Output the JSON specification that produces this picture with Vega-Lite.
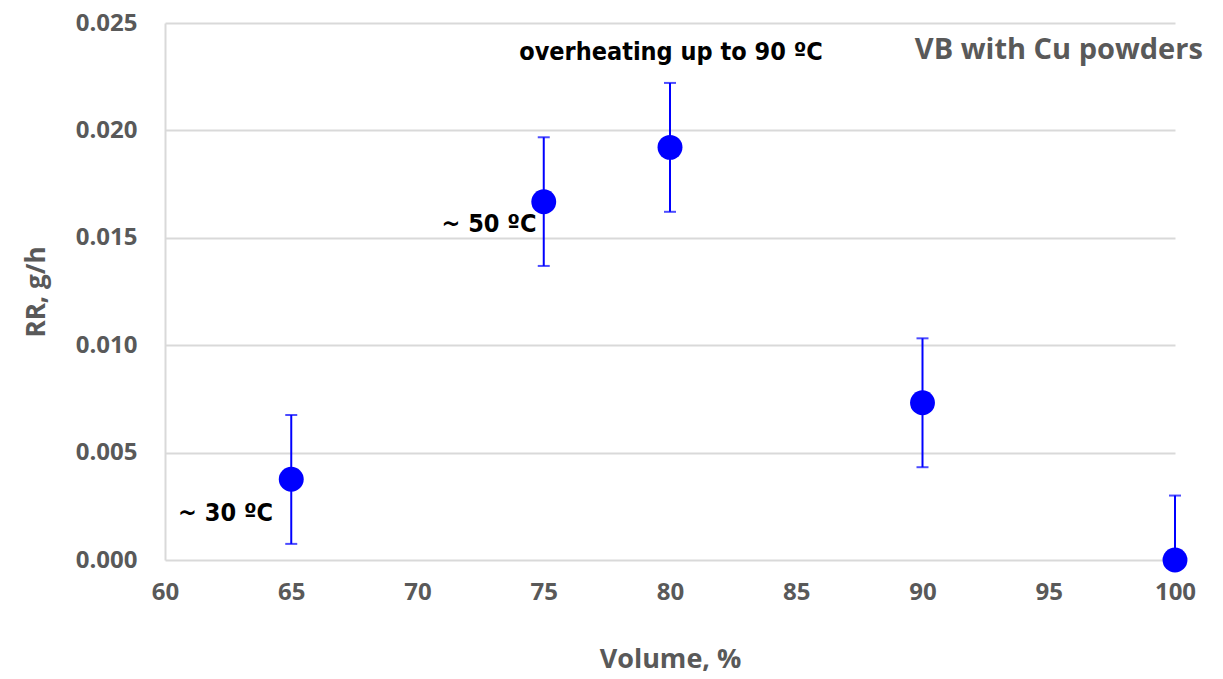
{
  "$schema": "https://vega.github.io/schema/vega-lite/v6.json",
  "width": 1010,
  "height": 537,
  "autosize": {"type": "none"},
  "padding": {"left": 165, "top": 23, "right": 48, "bottom": 119},
  "config": {"view": {"stroke": null}, "font": "Open Sans"},
  "datasets": {
    "pts": [
      {"volume": 65, "rr": 0.00376, "lo": 0.00075, "hi": 0.00675},
      {"volume": 75, "rr": 0.01668, "lo": 0.01369, "hi": 0.01968},
      {"volume": 80, "rr": 0.01921, "lo": 0.01621, "hi": 0.02221},
      {"volume": 90, "rr": 0.00732, "lo": 0.00432, "hi": 0.01032},
      {"volume": 100, "rr": 0.0, "lo": 0.0, "hi": 0.003}
    ],
    "notes": [
      {"volume": 62.4, "rr": 0.00219, "label": "~ 30 ºC"},
      {"volume": 72.83, "rr": 0.01564, "label": "~ 50 ºC"},
      {"volume": 80.04, "rr": 0.02365, "label": "overheating up to 90 ºC"}
    ],
    "title": [
      {"volume": 95.4, "rr": 0.02375, "label": "VB with Cu powders"}
    ]
  },
  "encoding": {
    "x": {
      "field": "volume", "type": "quantitative",
      "scale": {"domain": [60, 100], "nice": false, "zero": false},
      "axis": {
        "values": [60, 65, 70, 75, 80, 85, 90, 95, 100],
        "title": "Volume, %",
        "grid": false, "ticks": false,
        "domain": false, "labelFlush": false,
        "labelFont": "Open Sans", "labelFontWeight": "bold", "labelFontSize": 24, "labelColor": "#595959",
        "labelPadding": 20,
        "titleFont": "Open Sans", "titleFontWeight": "bold", "titleFontSize": 27, "titleColor": "#595959",
        "titlePadding": 42
      }
    },
    "y": {
      "field": "rr", "type": "quantitative",
      "scale": {"domain": [0, 0.025], "nice": false},
      "axis": {
        "values": [0, 0.005, 0.01, 0.015, 0.02, 0.025],
        "format": ".3f",
        "title": "RR, g/h",
        "grid": true, "gridColor": "#d9d9d9", "gridWidth": 2,
        "ticks": false, "labelFlush": false,
        "domain": true, "domainColor": "#d9d9d9", "domainWidth": 2,
        "labelFont": "Open Sans", "labelFontWeight": "bold", "labelFontSize": 24, "labelColor": "#595959",
        "labelPadding": 28,
        "titleFont": "Open Sans", "titleFontWeight": "bold", "titleFontSize": 26, "titleColor": "#595959",
        "titlePadding": 26
      }
    }
  },
  "layer": [
    {
      "data": {"name": "pts"},
      "mark": {"type": "rule", "color": "#0000ff", "strokeWidth": 2},
      "encoding": {"y": {"field": "lo", "type": "quantitative"}, "y2": {"field": "hi"}}
    },
    {
      "data": {"name": "pts"},
      "mark": {"type": "tick", "orient": "horizontal", "color": "#0000ff", "size": 12, "thickness": 2},
      "encoding": {"y": {"field": "hi", "type": "quantitative"}}
    },
    {
      "data": {"name": "pts"},
      "mark": {"type": "tick", "orient": "horizontal", "color": "#0000ff", "size": 12, "thickness": 2},
      "encoding": {"y": {"field": "lo", "type": "quantitative"}}
    },
    {
      "data": {"name": "pts"},
      "mark": {"type": "point", "filled": true, "shape": "circle", "size": 620, "color": "#0000ff", "opacity": 1}
    },
    {
      "data": {"name": "notes"},
      "mark": {"type": "text", "font": "'Liberation Sans Narrow', 'DejaVu Sans Condensed', Roboto, sans-serif", "fontWeight": "bold", "fontSize": 25, "color": "#000000", "align": "center", "baseline": "middle"},
      "encoding": {"text": {"field": "label"}}
    },
    {
      "data": {"name": "title"},
      "mark": {"type": "text", "font": "Open Sans", "fontWeight": "bold", "fontSize": 29, "color": "#595959", "align": "center", "baseline": "middle", "clip": false},
      "encoding": {"text": {"field": "label"}}
    }
  ]
}
